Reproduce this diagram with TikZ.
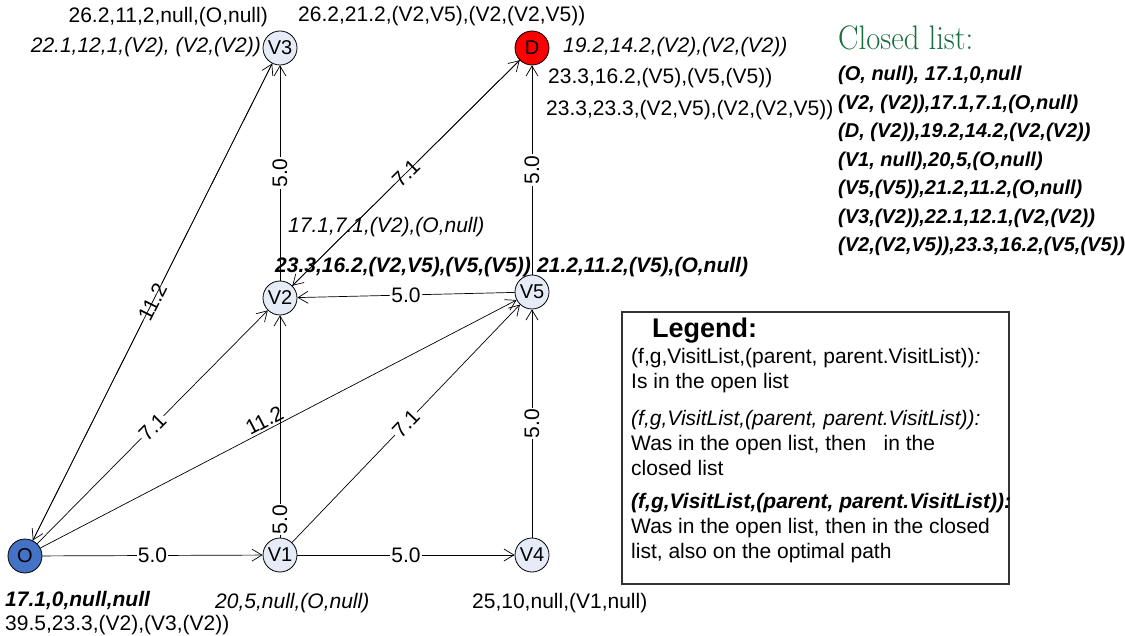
\documentclass[tikz,border=0pt]{standalone}
\usepackage{fontspec}
\setsansfont{Liberation Sans}
\usepackage{graphicx}
\usetikzlibrary{arrows.meta}
\definecolor{vfill}{RGB}{230,236,247}
\definecolor{ofill}{RGB}{68,114,196}
\definecolor{closedgreen}{RGB}{24,110,60}
\begin{document}
\begin{tikzpicture}[x=1pt,y=-1pt,
  font=\sffamily\fontsize{21}{25}\selectfont,
  vertex/.style={circle,draw,line width=0.8pt,fill=vfill,minimum size=34pt,inner sep=0pt,font=\sffamily\fontsize{20}{24}\selectfont},
  edge/.style={-{Straight Barb[length=10pt,width=12pt]},line width=0.7pt},
  w/.style={fill=white,inner sep=1pt},
  txt/.style={inner sep=0pt}]
\useasboundingbox (0,0) rectangle (1125,636);

\node[vertex,fill=ofill] (O) at (25,556) {O};
\node[vertex] (V1) at (280,555) {V1};
\node[vertex] (V4) at (532,555) {V4};
\node[vertex] (V2) at (280,298) {V2};
\node[vertex] (V5) at (532,292) {V5};
\node[vertex] (V3) at (280,48) {V3};
\node[vertex,fill=red] (D) at (532,48) {D};

\draw[edge] (O) -- node[w]{5.0} (V1);
\draw[edge] (V1) -- node[w]{5.0} (V4);
\draw[edge] (O) -- node[w,sloped]{7.1} (V2);
\draw[edge] (O) -- node[sloped,above,inner sep=2pt,pos=0.48]{11.2} (V5);
\draw[edge] (O) -- node[w,sloped]{11.2} (V3);
\draw[edge] (V3) -- (O);
\draw[edge] (V1) -- node[w,sloped,pos=0.08]{5.0} (V2);
\draw[edge] (V1) -- node[w,sloped]{7.1} (V5);
\draw[edge] (V4) -- node[w,sloped]{5.0} (V5);
\draw[edge] (V5) -- node[w]{5.0} (V2);
\draw[edge] (V2) -- node[w,sloped]{5.0} (V3);
\draw[edge] (V2) -- node[w,sloped]{7.1} (D);
\draw[edge] (D) -- (V2);
\draw[edge] (V5) -- node[w,sloped]{5.0} (D);

\node[txt,anchor=east] (v3a) at (268,17) {26.2,11,2,null,(O,null)};
\node[txt,anchor=east] (v3b) at (261,47) {\itshape 22.1,12,1,(V2), (V2,(V2))};
\node[txt,anchor=west] (da) at (298,16) {26.2,21.2,(V2,V5),(V2,(V2,V5))};
\node[txt,anchor=west] (db) at (563,47) {\itshape 19.2,14.2,(V2),(V2,(V2))};
\node[txt,anchor=west] (dc) at (548,78) {23.3,16.2,(V5),(V5,(V5))};
\node[txt,anchor=west] (dd) at (546,110) {23.3,23.3,(V2,V5),(V2,(V2,V5))};
\node[txt,anchor=west] (v2a) at (288,227) {\itshape 17.1,7.1,(V2),(O,null)};
\node[txt,anchor=east] (v2b) at (531,267) {\bfseries\itshape 23.3,16.2,(V2,V5),(V5,(V5))};
\node[txt,anchor=west] (v5a) at (537,267) {\bfseries\itshape 21.2,11.2,(V5),(O,null)};
\node[txt,anchor=west] (oa) at (5,601) {\bfseries\itshape 17.1,0,null,null};
\node[txt,anchor=west] (ob) at (5,625) {39.5,23.3,(V2),(V3,(V2))};
\node[txt,anchor=west] (v1a) at (215,603) {\itshape 20,5,null,(O,null)};
\node[txt,anchor=west] (v4a) at (472,603) {25,10,null,(V1,null)};

\node[txt,anchor=west,text=closedgreen] (ctitle) at (838,38)
  {\scalebox{0.9}[1]{\rmfamily\fontsize{34}{40}\selectfont Closed list:}};
\node[txt,anchor=north west,align=left,font=\sffamily\bfseries\itshape\fontsize{20}{28.5}\selectfont] (clist) at (838,66)
  {(O, null), 17.1,0,null\\
   (V2, (V2)),17.1,7.1,(O,null)\\
   (D, (V2)),19.2,14.2,(V2,(V2))\\
   (V1, null),20,5,(O,null)\\
   (V5,(V5)),21.2,11.2,(O,null)\\
   (V3,(V2)),22.1,12.1,(V2,(V2))\\
   (V2,(V2,V5)),23.3,16.2,(V5,(V5))};

\draw[line width=1.2pt,black!80] (622,312) rectangle (1009,584);
\node[txt,anchor=west,font=\sffamily\bfseries\fontsize{27}{30}\selectfont] (ltitle) at (652,331) {Legend:};
\node[txt,anchor=north west,align=left] (lopen) at (631,348)
  {(f,g,VisitList,(parent, parent.VisitList)){\itshape :}\\
   Is in the open list};
\node[txt,anchor=north west,align=left] (lclosed) at (631,410)
  {\itshape (f,g,VisitList,(parent, parent.VisitList)):\\
   Was in the open list, then \ \ in the\\
   closed list};
\node[txt,anchor=north west,align=left] (lpath) at (631,493)
  {\bfseries\itshape (f,g,VisitList,(parent, parent.VisitList)):\\
   Was in the open list, then in the closed\\
   list, also on the optimal path};
\end{tikzpicture}
\end{document}
